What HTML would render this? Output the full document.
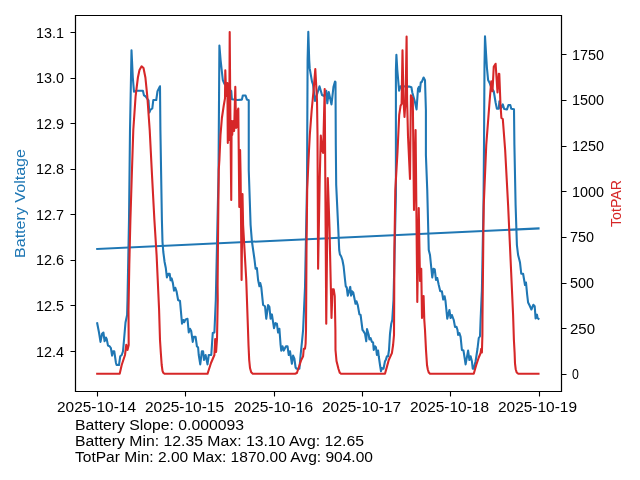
<!DOCTYPE html>
<html><head><meta charset="utf-8"><style>
html,body{margin:0;padding:0;background:#fff;}
body{width:640px;height:480px;overflow:hidden;position:relative;}
svg{position:absolute;left:0;top:0;will-change:transform;}
text{font-family:"Liberation Sans",sans-serif;font-size:13.89px;}
</style></head><body>
<svg width="640" height="480" viewBox="0 0 640 480">
<rect x="0" y="0" width="640" height="480" fill="#fff"/>
<g fill="none" stroke-linejoin="round" stroke-linecap="square" stroke-width="2.083">
<polyline points="97.20,323.20 99.00,332.50 100.50,341.90 102.10,333.75 103.40,332.50 104.60,341.25 105.90,337.50 106.70,339.00 108.00,345.60 109.60,346.25 110.90,348.10 112.10,355.60 113.00,351.25 114.25,351.25 115.90,362.50 116.60,365.00 119.00,365.00 120.25,356.25 121.75,355.00 123.00,351.25 124.00,340.00 125.50,322.50 127.10,315.00 127.50,300.00 129.00,220.00 130.00,130.00 131.50,50.30 132.80,77.50 134.00,91.70 136.70,90.80 142.90,90.80 144.00,95.40 145.40,96.25 148.50,100.40 149.30,112.50 150.60,109.60 152.30,108.50 153.30,100.00 156.25,100.00 157.50,91.25 160.00,86.25 160.40,130.00 161.90,220.00 162.50,242.00 163.30,252.00 164.60,262.00 165.80,268.00 166.90,277.50 168.20,273.80 169.70,273.80 170.60,280.30 171.60,278.40 172.90,283.10 174.00,290.60 175.30,287.80 176.60,291.60 178.10,300.00 180.00,301.00 181.70,320.00 182.00,323.60 183.40,320.00 184.20,322.20 185.60,319.40 187.50,318.75 188.75,332.50 190.00,328.75 191.20,331.00 192.75,341.90 193.75,336.90 195.60,336.90 196.90,346.25 198.10,347.50 198.75,355.00 200.25,364.40 201.90,351.25 203.10,351.25 204.00,360.00 205.60,355.00 207.50,364.40 208.75,355.00 211.25,355.00 212.75,333.10 214.40,332.50 215.80,300.00 218.50,175.00 219.40,45.60 220.60,60.00 222.80,80.00 224.40,83.75 228.75,88.75 231.25,91.00 231.90,99.25 237.50,100.00 241.90,99.60 242.80,95.50 245.60,95.50 246.90,99.60 248.75,100.20 248.75,170.00 250.60,225.00 251.90,241.25 254.40,258.75 255.60,268.75 256.90,268.00 258.10,280.00 259.40,286.25 260.25,283.10 261.25,286.90 263.10,305.00 265.00,306.25 266.25,318.75 268.10,305.00 269.40,306.90 270.60,318.75 271.90,314.40 274.00,328.10 275.40,323.10 276.90,323.75 278.10,332.50 279.40,328.75 280.60,345.00 281.25,350.60 282.50,346.25 283.75,350.60 286.00,346.25 287.50,346.25 288.75,355.00 290.00,351.25 291.90,363.75 293.10,355.60 294.40,358.75 295.60,367.50 296.60,368.75 299.40,368.75 300.60,355.00 301.90,342.50 303.10,330.00 305.00,287.50 307.00,185.00 307.20,145.00 307.60,60.00 308.30,31.70 309.20,60.00 309.70,68.40 312.00,81.60 313.00,84.40 315.00,101.00 319.50,86.25 322.00,95.00 324.20,96.00 326.25,90.80 327.30,103.30 328.75,92.00 331.50,104.40 333.50,86.70 335.00,81.60 335.50,82.00 335.80,145.00 336.20,185.00 338.10,225.00 339.20,250.00 339.90,254.40 341.10,256.25 342.40,260.00 343.60,266.25 344.90,278.75 345.75,286.25 346.75,287.50 347.75,295.60 350.25,286.90 351.10,295.60 352.00,291.25 353.25,292.50 354.25,297.50 355.50,303.75 356.50,301.25 357.75,305.00 359.40,314.40 360.60,315.00 362.50,330.00 363.10,330.60 365.00,333.75 366.25,341.25 367.00,329.00 368.75,335.00 369.40,339.40 370.60,338.10 371.90,341.90 373.10,342.50 373.75,350.00 375.00,346.25 376.00,347.50 376.90,355.00 378.10,350.60 378.75,356.25 380.00,365.00 381.00,371.25 381.90,368.10 383.50,368.75 385.00,361.25 386.00,359.40 386.90,356.25 388.10,356.25 389.00,350.00 390.00,333.75 391.25,323.75 392.25,320.00 393.50,300.00 395.90,195.00 395.90,70.00 396.40,54.80 397.30,70.00 399.10,90.75 400.60,86.25 409.25,86.60 411.40,87.30 412.30,92.50 414.70,101.00 416.55,109.40 418.00,88.75 418.90,86.90 419.80,91.60 420.80,82.20 421.70,82.20 423.60,77.50 425.00,80.30 425.90,110.00 425.90,155.00 427.25,190.00 428.75,250.00 430.00,255.00 431.25,267.50 432.25,277.50 433.50,268.75 434.75,269.40 436.00,280.00 437.25,278.00 438.75,285.00 440.25,291.25 441.90,291.25 443.20,299.50 444.60,296.25 445.50,301.00 447.25,318.75 449.40,310.00 450.60,318.00 451.90,315.00 453.75,320.00 455.00,326.90 456.50,326.90 457.50,330.00 458.10,335.00 459.40,333.10 460.60,336.90 461.90,350.00 463.50,350.60 465.60,364.40 468.10,350.60 469.40,360.00 470.60,356.25 471.90,361.25 472.75,368.75 473.75,368.75 475.60,361.25 477.50,348.75 478.75,338.00 480.00,336.25 480.60,320.00 481.90,290.00 483.50,205.00 484.00,145.00 484.50,65.00 485.00,36.25 486.90,67.50 488.10,80.00 489.40,82.50 491.25,87.50 493.75,91.25 495.60,102.50 496.90,108.75 498.75,108.75 499.40,101.25 500.90,108.50 502.80,104.40 504.20,109.00 507.00,109.50 508.40,105.00 510.30,105.00 511.25,108.75 514.00,109.20 514.40,145.00 515.60,205.00 516.90,245.00 518.10,255.00 519.40,260.00 520.00,262.50 521.25,273.75 523.10,273.75 525.00,285.00 526.00,282.50 527.20,295.00 528.10,302.50 529.50,305.30 531.40,309.50 533.30,304.80 534.70,306.25 535.60,318.40 537.00,314.70 537.50,318.00 538.50,318.90" stroke="#1f77b4"/>
<polyline points="97.22,248.96 538.53,228.45" stroke="#1f77b4"/>
<polyline points="97.20,373.80 119.70,373.80 121.70,365.00 125.00,355.00 126.30,344.70 127.50,350.00 128.70,345.00 128.50,310.00 129.30,265.00 130.40,220.00 131.80,175.00 133.30,130.00 135.60,96.30 137.90,77.50 139.50,70.00 141.60,66.30 143.50,68.00 145.40,77.50 147.30,96.30 149.70,130.00 152.00,175.00 154.40,220.00 156.60,255.00 159.10,310.00 160.00,340.00 160.80,352.50 161.70,365.00 162.50,370.80 163.30,372.80 164.50,373.80 207.50,373.80 208.75,370.00 211.00,363.00 214.40,355.00 215.20,339.00 216.10,352.00 217.00,339.00 217.75,300.00 217.60,285.00 218.10,230.00 218.75,170.00 219.40,160.00 220.50,135.00 221.90,118.00 223.75,105.50 225.00,98.40 225.30,70.30 226.20,96.00 227.40,83.00 227.80,143.00 228.60,120.00 229.20,140.00 229.70,32.00 230.40,120.00 231.25,200.00 231.60,121.00 232.20,135.00 233.20,121.00 234.10,131.00 235.30,86.70 236.10,128.00 236.80,127.00 237.50,112.00 238.30,108.60 239.30,207.00 240.10,150.00 240.60,175.00 241.60,280.00 242.50,194.00 243.10,225.00 246.25,280.00 248.00,330.00 248.50,345.00 249.20,360.00 250.00,368.00 251.20,372.30 252.80,373.80 295.00,373.80 296.90,373.00 298.75,367.50 301.25,360.00 303.10,356.25 303.75,348.75 305.00,348.75 305.60,343.75 306.00,330.00 306.20,300.00 306.50,250.00 307.20,190.00 308.50,160.00 309.80,135.00 311.70,110.00 313.60,90.00 315.30,69.00 317.00,100.00 317.50,135.00 318.10,268.75 319.70,180.00 320.80,135.60 322.00,150.00 323.10,153.00 324.70,89.00 326.25,323.75 327.80,178.00 329.50,228.00 331.50,318.00 332.50,289.40 333.75,289.40 334.75,296.25 335.40,330.00 335.50,350.00 336.50,361.00 338.50,369.00 339.80,372.80 341.00,373.80 385.00,373.80 386.90,366.90 388.75,360.00 391.90,353.10 393.10,345.00 394.00,335.00 394.20,300.00 394.40,250.00 395.30,190.00 397.50,152.00 399.20,115.00 400.60,105.60 401.60,104.00 402.50,50.20 403.50,100.00 404.50,117.00 405.60,100.00 406.60,36.60 407.10,100.00 408.00,136.00 410.00,179.00 410.90,95.30 412.80,99.00 414.00,210.00 415.60,130.00 417.30,301.90 418.75,208.00 420.00,281.00 421.25,268.75 422.00,318.00 423.60,296.00 424.30,320.00 425.00,330.00 426.00,350.00 427.00,365.00 427.80,369.50 428.80,372.60 430.00,373.80 473.75,373.80 476.25,365.00 478.75,357.50 480.60,353.00 481.25,348.75 481.90,352.50 482.40,335.00 482.50,315.00 483.00,270.00 483.40,230.00 483.75,205.00 486.25,145.00 489.70,100.00 491.25,81.25 492.50,91.25 493.75,66.90 495.60,63.75 497.50,92.50 498.75,73.75 499.30,74.00 500.50,105.00 501.40,118.00 502.80,119.00 505.15,150.00 508.10,205.00 510.60,260.00 513.10,315.00 513.90,340.00 514.60,352.50 515.00,363.30 515.70,369.20 516.70,372.50 518.30,373.80 538.50,373.80" stroke="#d62728"/>
</g>
<path d="M75.5 391.5V15.5H561.5V391.5Z" fill="none" stroke="#000" stroke-width="1.22" stroke-linejoin="miter"/>
<path d="M97.5 391V396.5M185.5 391V396.5M274.5 391V396.5M362.5 391V396.5M450.5 391V396.5M539.5 391V396.5M75 32.5H70.5M75 78.5H70.5M75 123.5H70.5M75 169.5H70.5M75 214.5H70.5M75 260.5H70.5M75 305.5H70.5M75 351.5H70.5M562 54.5H566.5M562 100.5H566.5M562 146.5H566.5M562 191.5H566.5M562 237.5H566.5M562 283.5H566.5M562 328.5H566.5M562 374.5H566.5" fill="none" stroke="#000" stroke-width="1.11"/>
<text x="57.00" y="412.00" textLength="79.00" lengthAdjust="spacingAndGlyphs" fill="#000">2025-10-14</text>
<text x="145.00" y="412.00" textLength="79.00" lengthAdjust="spacingAndGlyphs" fill="#000">2025-10-15</text>
<text x="234.00" y="412.00" textLength="79.00" lengthAdjust="spacingAndGlyphs" fill="#000">2025-10-16</text>
<text x="322.00" y="412.00" textLength="79.00" lengthAdjust="spacingAndGlyphs" fill="#000">2025-10-17</text>
<text x="410.00" y="412.00" textLength="79.00" lengthAdjust="spacingAndGlyphs" fill="#000">2025-10-18</text>
<text x="498.00" y="412.00" textLength="79.00" lengthAdjust="spacingAndGlyphs" fill="#000">2025-10-19</text>
<text x="36.00" y="38.00" textLength="28.00" lengthAdjust="spacingAndGlyphs" fill="#000">13.1</text>
<text x="36.00" y="83.00" textLength="28.00" lengthAdjust="spacingAndGlyphs" fill="#000">13.0</text>
<text x="36.00" y="129.00" textLength="28.00" lengthAdjust="spacingAndGlyphs" fill="#000">12.9</text>
<text x="36.00" y="174.00" textLength="28.00" lengthAdjust="spacingAndGlyphs" fill="#000">12.8</text>
<text x="36.00" y="220.00" textLength="28.04" lengthAdjust="spacingAndGlyphs" fill="#000">12.7</text>
<text x="36.00" y="265.00" textLength="28.00" lengthAdjust="spacingAndGlyphs" fill="#000">12.6</text>
<text x="36.00" y="311.00" textLength="28.00" lengthAdjust="spacingAndGlyphs" fill="#000">12.5</text>
<text x="36.00" y="357.00" textLength="28.00" lengthAdjust="spacingAndGlyphs" fill="#000">12.4</text>
<text x="572.00" y="379.00" textLength="6.86" lengthAdjust="spacingAndGlyphs" fill="#000">0</text>
<text x="570.00" y="334.00" textLength="25.00" lengthAdjust="spacingAndGlyphs" fill="#000">250</text>
<text x="570.00" y="288.00" textLength="24.00" lengthAdjust="spacingAndGlyphs" fill="#000">500</text>
<text x="570.00" y="242.00" textLength="24.00" lengthAdjust="spacingAndGlyphs" fill="#000">750</text>
<text x="572.00" y="197.00" textLength="32.00" lengthAdjust="spacingAndGlyphs" fill="#000">1000</text>
<text x="572.00" y="151.00" textLength="32.00" lengthAdjust="spacingAndGlyphs" fill="#000">1250</text>
<text x="572.00" y="105.00" textLength="32.00" lengthAdjust="spacingAndGlyphs" fill="#000">1500</text>
<text x="572.00" y="60.00" textLength="32.00" lengthAdjust="spacingAndGlyphs" fill="#000">1750</text>
<text transform="translate(25.00,258.02) rotate(-90)" x="0" y="0" textLength="109.03" lengthAdjust="spacingAndGlyphs" fill="#1f77b4">Battery Voltage</text>
<text transform="translate(621.00,227.00) rotate(-90)" x="0" y="0" textLength="47.00" lengthAdjust="spacingAndGlyphs" fill="#d62728">TotPAR</text>
<text x="74.99" y="429.50" textLength="169.02" lengthAdjust="spacingAndGlyphs" fill="#000">Battery Slope: 0.000093</text>
<text x="75.00" y="445.50" textLength="289.00" lengthAdjust="spacingAndGlyphs" fill="#000">Battery Min: 12.35 Max: 13.10 Avg: 12.65</text>
<text x="75.00" y="462.00" textLength="298.00" lengthAdjust="spacingAndGlyphs" fill="#000">TotPar Min: 2.00 Max: 1870.00 Avg: 904.00</text>
</svg>
</body></html>
